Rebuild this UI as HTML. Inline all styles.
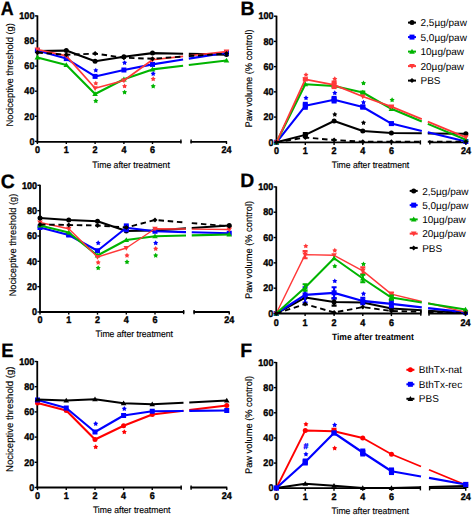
<!DOCTYPE html>
<html><head><meta charset="utf-8"><style>
html,body{margin:0;padding:0;background:#fff;}
svg{display:block;font-family:"Liberation Sans",sans-serif;}
text{text-rendering:geometricPrecision;}
</style></head><body>
<svg width="472" height="515" viewBox="0 0 472 515">
<rect width="472" height="515" fill="#fff"/>
<text transform="translate(0.8 15.4) scale(0.92 1)" font-size="19.4" font-weight="bold" stroke="#000" stroke-width="0.3">A</text>
<path d="M37.4 15.4V142.3" stroke="#000" stroke-width="1.8" fill="none"/>
<path d="M34.8 141.4H37.4" stroke="#000" stroke-width="1.4"/>
<text transform="translate(34.4 144.65) scale(0.93 1)" font-size="9.7" font-weight="bold" text-anchor="end" stroke="#000" stroke-width="0.4">0</text>
<path d="M34.8 116.3H37.4" stroke="#000" stroke-width="1.4"/>
<text transform="translate(34.4 119.55) scale(0.93 1)" font-size="9.7" font-weight="bold" text-anchor="end" stroke="#000" stroke-width="0.4">20</text>
<path d="M34.8 91.2H37.4" stroke="#000" stroke-width="1.4"/>
<text transform="translate(34.4 94.45) scale(0.93 1)" font-size="9.7" font-weight="bold" text-anchor="end" stroke="#000" stroke-width="0.4">40</text>
<path d="M34.8 66.1H37.4" stroke="#000" stroke-width="1.4"/>
<text transform="translate(34.4 69.35) scale(0.93 1)" font-size="9.7" font-weight="bold" text-anchor="end" stroke="#000" stroke-width="0.4">60</text>
<path d="M34.8 41H37.4" stroke="#000" stroke-width="1.4"/>
<text transform="translate(34.4 44.25) scale(0.93 1)" font-size="9.7" font-weight="bold" text-anchor="end" stroke="#000" stroke-width="0.4">80</text>
<path d="M34.8 15.9H37.4" stroke="#000" stroke-width="1.4"/>
<text transform="translate(34.4 19.15) scale(0.93 1)" font-size="9.7" font-weight="bold" text-anchor="end" stroke="#000" stroke-width="0.4">100</text>
<path d="M36.5 141.9H181.5 M190.5 141.9H227" stroke="#000" stroke-width="1.8" fill="none"/>
<path d="M180.9 139.4V143.6" stroke="#000" stroke-width="1.4"/>
<path d="M191.1 139.4V143.6" stroke="#000" stroke-width="1.4"/>
<path d="M37.4 141.4V144" stroke="#000" stroke-width="1.4"/>
<text transform="translate(37.4 153.4) scale(0.93 1)" font-size="9.7" font-weight="bold" text-anchor="middle" stroke="#000" stroke-width="0.4">0</text>
<path d="M66.3 141.4V144" stroke="#000" stroke-width="1.4"/>
<text transform="translate(66.3 153.4) scale(0.93 1)" font-size="9.7" font-weight="bold" text-anchor="middle" stroke="#000" stroke-width="0.4">1</text>
<path d="M95.1 141.4V144" stroke="#000" stroke-width="1.4"/>
<text transform="translate(95.1 153.4) scale(0.93 1)" font-size="9.7" font-weight="bold" text-anchor="middle" stroke="#000" stroke-width="0.4">2</text>
<path d="M123.9 141.4V144" stroke="#000" stroke-width="1.4"/>
<text transform="translate(123.9 153.4) scale(0.93 1)" font-size="9.7" font-weight="bold" text-anchor="middle" stroke="#000" stroke-width="0.4">4</text>
<path d="M152.5 141.4V144" stroke="#000" stroke-width="1.4"/>
<text transform="translate(152.5 153.4) scale(0.93 1)" font-size="9.7" font-weight="bold" text-anchor="middle" stroke="#000" stroke-width="0.4">6</text>
<path d="M226.5 141.4V144" stroke="#000" stroke-width="1.4"/>
<text transform="translate(226.5 153.4) scale(0.93 1)" font-size="9.7" font-weight="bold" text-anchor="middle" stroke="#000" stroke-width="0.4">24</text>
<text transform="translate(92.3 167.7) scale(0.93 1)" font-size="9.3" stroke="#000" stroke-width="0.15" >Time after treatment</text>
<text transform="translate(13.1 74.8) rotate(-90) scale(0.965 1)" font-size="9.7" text-anchor="middle" stroke="#000" stroke-width="0.15">Nociceptive threshold (g)</text>
<path d="M37.4 51 L66.3 50.6 L95.1 61.2 L123.9 56.7 L152.5 53.1 L183.1 53.72 M188.8 53.84 L226.5 54.6" stroke="#000" stroke-width="2.1" fill="none" stroke-linejoin="round"/>
<circle cx="37.4" cy="51" r="2.5" fill="#000"/>
<circle cx="66.3" cy="50.6" r="2.5" fill="#000"/>
<circle cx="95.1" cy="61.2" r="2.5" fill="#000"/>
<circle cx="123.9" cy="56.7" r="2.5" fill="#000"/>
<circle cx="152.5" cy="53.1" r="2.5" fill="#000"/>
<circle cx="226.5" cy="54.6" r="2.5" fill="#000"/>
<path d="M37.4 50.6 L66.3 58.6 L95.1 76.4 L123.9 70 L152.5 64.4 L183.1 59.56 M188.8 58.66 L226.5 52.7" stroke="#0000ff" stroke-width="2.1" fill="none" stroke-linejoin="round"/>
<rect x="34.9" y="48.1" width="5" height="5" fill="#0000ff"/>
<rect x="63.8" y="56.1" width="5" height="5" fill="#0000ff"/>
<rect x="92.6" y="73.9" width="5" height="5" fill="#0000ff"/>
<rect x="121.4" y="67.5" width="5" height="5" fill="#0000ff"/>
<rect x="150" y="61.9" width="5" height="5" fill="#0000ff"/>
<rect x="224" y="50.2" width="5" height="5" fill="#0000ff"/>
<path d="M37.4 57.4 L66.3 65 L95.1 94 L123.9 79.3 L152.5 69.4 L183.1 65.72 M188.8 65.03 L226.5 60.5" stroke="#00b400" stroke-width="2.1" fill="none" stroke-linejoin="round"/>
<path d="M37.4 54.6L40.2 59.5L34.6 59.5Z" fill="#00b400"/>
<path d="M66.3 62.2L69.1 67.1L63.5 67.1Z" fill="#00b400"/>
<path d="M95.1 91.2L97.9 96.1L92.3 96.1Z" fill="#00b400"/>
<path d="M123.9 76.5L126.7 81.4L121.1 81.4Z" fill="#00b400"/>
<path d="M152.5 66.6L155.3 71.5L149.7 71.5Z" fill="#00b400"/>
<path d="M226.5 57.7L229.3 62.6L223.7 62.6Z" fill="#00b400"/>
<path d="M37.4 49.5 L66.3 55.9 L95.1 88.3 L123.9 80.5 L152.5 59.75 L183.1 56.38 M188.8 55.75 L226.5 51.6" stroke="#ff3838" stroke-width="1.7" fill="none" stroke-linejoin="round"/>
<path d="M37.4 52.3L40.2 47.4L34.6 47.4Z" fill="#ff3838"/>
<path d="M66.3 58.7L69.1 53.8L63.5 53.8Z" fill="#ff3838"/>
<path d="M95.1 91.1L97.9 86.2L92.3 86.2Z" fill="#ff3838"/>
<path d="M123.9 83.3L126.7 78.4L121.1 78.4Z" fill="#ff3838"/>
<path d="M152.5 62.55L155.3 57.65L149.7 57.65Z" fill="#ff3838"/>
<path d="M226.5 54.4L229.3 49.5L223.7 49.5Z" fill="#ff3838"/>
<path d="M37.4 52.5 L66.3 54.8 L95.1 53.6 L123.9 57.7 L152.5 58.75 L183.1 56.58 M188.8 56.17 L226.5 53.5" stroke="#000" stroke-width="1.9" fill="none" stroke-linejoin="round" stroke-dasharray="5.5 3.7"/>
<path d="M37.4 50L39.9 52.5L37.4 55L34.9 52.5Z" fill="#000"/>
<path d="M66.3 52.3L68.8 54.8L66.3 57.3L63.8 54.8Z" fill="#000"/>
<path d="M95.1 51.1L97.6 53.6L95.1 56.1L92.6 53.6Z" fill="#000"/>
<path d="M123.9 55.2L126.4 57.7L123.9 60.2L121.4 57.7Z" fill="#000"/>
<path d="M152.5 56.25L155 58.75L152.5 61.25L150 58.75Z" fill="#000"/>
<path d="M226.5 51L229 53.5L226.5 56L224 53.5Z" fill="#000"/>
<path d="M95.8 67.75L96.66 69.22L98.32 69.58L97.19 70.85L97.36 72.54L95.8 71.86L94.24 72.54L94.41 70.85L93.28 69.58L94.94 69.22Z" fill="#0000ff"/>
<path d="M95.8 80.75L96.66 82.22L98.32 82.58L97.19 83.85L97.36 85.54L95.8 84.86L94.24 85.54L94.41 83.85L93.28 82.58L94.94 82.22Z" fill="#ff3838"/>
<path d="M95.8 98.35L96.66 99.82L98.32 100.18L97.19 101.45L97.36 103.14L95.8 102.46L94.24 103.14L94.41 101.45L93.28 100.18L94.94 99.82Z" fill="#00b400"/>
<path d="M124.6 60.15L125.46 61.62L127.12 61.98L125.99 63.25L126.16 64.94L124.6 64.26L123.04 64.94L123.21 63.25L122.08 61.98L123.74 61.62Z" fill="#0000ff"/>
<path d="M124.6 83.55L125.46 85.02L127.12 85.38L125.99 86.65L126.16 88.34L124.6 87.66L123.04 88.34L123.21 86.65L122.08 85.38L123.74 85.02Z" fill="#ff3838"/>
<path d="M124.6 89.65L125.46 91.12L127.12 91.48L125.99 92.75L126.16 94.44L124.6 93.76L123.04 94.44L123.21 92.75L122.08 91.48L123.74 91.12Z" fill="#00b400"/>
<path d="M153.2 71.1L154.06 72.57L155.72 72.93L154.59 74.2L154.76 75.89L153.2 75.21L151.64 75.89L151.81 74.2L150.68 72.93L152.34 72.57Z" fill="#0000ff"/>
<path d="M153.2 76.35L154.06 77.82L155.72 78.18L154.59 79.45L154.76 81.14L153.2 80.46L151.64 81.14L151.81 79.45L150.68 78.18L152.34 77.82Z" fill="#ff3838"/>
<path d="M153.2 83.6L154.06 85.07L155.72 85.43L154.59 86.7L154.76 88.39L153.2 87.71L151.64 88.39L151.81 86.7L150.68 85.43L152.34 85.07Z" fill="#00b400"/>
<text transform="translate(240.6 15.1) scale(1 1)" font-size="19.4" font-weight="bold" stroke="#000" stroke-width="0.3">B</text>
<path d="M276.5 15.7V143.2" stroke="#000" stroke-width="1.8" fill="none"/>
<path d="M273.9 142.3H276.5" stroke="#000" stroke-width="1.4"/>
<text transform="translate(273.5 145.55) scale(0.93 1)" font-size="9.7" font-weight="bold" text-anchor="end" stroke="#000" stroke-width="0.4">0</text>
<path d="M273.9 117.08H276.5" stroke="#000" stroke-width="1.4"/>
<text transform="translate(273.5 120.33) scale(0.93 1)" font-size="9.7" font-weight="bold" text-anchor="end" stroke="#000" stroke-width="0.4">20</text>
<path d="M273.9 91.86H276.5" stroke="#000" stroke-width="1.4"/>
<text transform="translate(273.5 95.11) scale(0.93 1)" font-size="9.7" font-weight="bold" text-anchor="end" stroke="#000" stroke-width="0.4">40</text>
<path d="M273.9 66.64H276.5" stroke="#000" stroke-width="1.4"/>
<text transform="translate(273.5 69.89) scale(0.93 1)" font-size="9.7" font-weight="bold" text-anchor="end" stroke="#000" stroke-width="0.4">60</text>
<path d="M273.9 41.42H276.5" stroke="#000" stroke-width="1.4"/>
<text transform="translate(273.5 44.67) scale(0.93 1)" font-size="9.7" font-weight="bold" text-anchor="end" stroke="#000" stroke-width="0.4">80</text>
<path d="M273.9 16.2H276.5" stroke="#000" stroke-width="1.4"/>
<text transform="translate(273.5 19.45) scale(0.93 1)" font-size="9.7" font-weight="bold" text-anchor="end" stroke="#000" stroke-width="0.4">100</text>
<path d="M275.6 142.3H421 M429.2 142.3H466.4" stroke="#000" stroke-width="1.8" fill="none"/>
<path d="M420.4 140.3V144.5" stroke="#000" stroke-width="1.4"/>
<path d="M429.8 140.3V144.5" stroke="#000" stroke-width="1.4"/>
<path d="M276.5 142.3V144.9" stroke="#000" stroke-width="1.4"/>
<text transform="translate(276.5 154.3) scale(0.93 1)" font-size="9.7" font-weight="bold" text-anchor="middle" stroke="#000" stroke-width="0.4">0</text>
<path d="M305.3 142.3V144.9" stroke="#000" stroke-width="1.4"/>
<text transform="translate(305.3 154.3) scale(0.93 1)" font-size="9.7" font-weight="bold" text-anchor="middle" stroke="#000" stroke-width="0.4">1</text>
<path d="M334.1 142.3V144.9" stroke="#000" stroke-width="1.4"/>
<text transform="translate(334.1 154.3) scale(0.93 1)" font-size="9.7" font-weight="bold" text-anchor="middle" stroke="#000" stroke-width="0.4">2</text>
<path d="M362.8 142.3V144.9" stroke="#000" stroke-width="1.4"/>
<text transform="translate(362.8 154.3) scale(0.93 1)" font-size="9.7" font-weight="bold" text-anchor="middle" stroke="#000" stroke-width="0.4">4</text>
<path d="M391.4 142.3V144.9" stroke="#000" stroke-width="1.4"/>
<text transform="translate(391.4 154.3) scale(0.93 1)" font-size="9.7" font-weight="bold" text-anchor="middle" stroke="#000" stroke-width="0.4">6</text>
<path d="M465.9 142.3V144.9" stroke="#000" stroke-width="1.4"/>
<text transform="translate(465.9 154.3) scale(0.93 1)" font-size="9.7" font-weight="bold" text-anchor="middle" stroke="#000" stroke-width="0.4">24</text>
<text transform="translate(331.7 167.6) scale(0.93 1)" font-size="9.3" stroke="#000" stroke-width="0.15" >Time after treatment</text>
<text transform="translate(252 78.4) rotate(-90) scale(0.965 1)" font-size="9.65" text-anchor="middle" stroke="#000" stroke-width="0.15">Paw volume (% control)</text>
<path d="M276.5 142.3 L305.3 134.9 L334.1 121 L362.8 131 L391.4 133 L421.8 133.33 M427.8 133.39 L465.9 133.8" stroke="#000" stroke-width="2" fill="none" stroke-linejoin="round"/>
<rect x="302.8" y="132" width="5" height="5.8" fill="#000"/>
<circle cx="276.5" cy="142.3" r="2.5" fill="#000"/>
<circle cx="305.3" cy="134.9" r="2.5" fill="#000"/>
<circle cx="334.1" cy="121" r="2.5" fill="#000"/>
<circle cx="362.8" cy="131" r="2.5" fill="#000"/>
<circle cx="391.4" cy="133" r="2.5" fill="#000"/>
<circle cx="465.9" cy="133.8" r="2.5" fill="#000"/>
<path d="M276.5 142.3 L305.3 105.8 L334.1 99.7 L362.8 107 L391.4 123.6 L421.8 130.9 M427.8 132.35 L465.9 141.5" stroke="#0000ff" stroke-width="2.1" fill="none" stroke-linejoin="round"/>
<rect x="302.8" y="101.8" width="5" height="8" fill="#0000ff"/>
<rect x="331.6" y="95.9" width="5" height="7.6" fill="#0000ff"/>
<rect x="360.3" y="104.6" width="5" height="4.8" fill="#0000ff"/>
<rect x="388.9" y="121.6" width="5" height="4" fill="#0000ff"/>
<rect x="274" y="139.8" width="5" height="5" fill="#0000ff"/>
<rect x="302.8" y="103.3" width="5" height="5" fill="#0000ff"/>
<rect x="331.6" y="97.2" width="5" height="5" fill="#0000ff"/>
<rect x="360.3" y="104.5" width="5" height="5" fill="#0000ff"/>
<rect x="388.9" y="121.1" width="5" height="5" fill="#0000ff"/>
<rect x="463.4" y="139" width="5" height="5" fill="#0000ff"/>
<path d="M276.5 142.3 L305.3 84.2 L334.1 86 L362.8 92.5 L391.4 108.8 L421.8 121.41 M427.8 123.9 L465.9 139.7" stroke="#00b400" stroke-width="2.1" fill="none" stroke-linejoin="round"/>
<rect x="360.3" y="90.5" width="5" height="4" fill="#00b400"/>
<path d="M276.5 139.5L279.3 144.4L273.7 144.4Z" fill="#00b400"/>
<path d="M305.3 81.4L308.1 86.3L302.5 86.3Z" fill="#00b400"/>
<path d="M334.1 83.2L336.9 88.1L331.3 88.1Z" fill="#00b400"/>
<path d="M362.8 89.7L365.6 94.6L360 94.6Z" fill="#00b400"/>
<path d="M391.4 106L394.2 110.9L388.6 110.9Z" fill="#00b400"/>
<path d="M465.9 136.9L468.7 141.8L463.1 141.8Z" fill="#00b400"/>
<path d="M276.5 142.3 L305.3 79.4 L334.1 84.8 L362.8 96.5 L391.4 106.6 L421.8 119.13 M427.8 121.6 L465.9 137.3" stroke="#ff3838" stroke-width="1.8" fill="none" stroke-linejoin="round"/>
<rect x="302.8" y="77.4" width="5" height="4" fill="#ff3838"/>
<rect x="331.6" y="80.5" width="5" height="8.6" fill="#ff3838"/>
<rect x="388.9" y="105.1" width="5" height="3" fill="#ff3838"/>
<path d="M276.5 145.1L279.3 140.2L273.7 140.2Z" fill="#ff3838"/>
<path d="M305.3 82.2L308.1 77.3L302.5 77.3Z" fill="#ff3838"/>
<path d="M334.1 87.6L336.9 82.7L331.3 82.7Z" fill="#ff3838"/>
<path d="M362.8 99.3L365.6 94.4L360 94.4Z" fill="#ff3838"/>
<path d="M391.4 109.4L394.2 104.5L388.6 104.5Z" fill="#ff3838"/>
<path d="M465.9 140.1L468.7 135.2L463.1 135.2Z" fill="#ff3838"/>
<path d="M276.5 142.3 L305.3 137.5 L334.1 140 L362.8 141.8 L391.4 141.8 L421.8 141.8 M427.8 141.8 L465.9 141.8" stroke="#000" stroke-width="1.9" fill="none" stroke-linejoin="round" stroke-dasharray="5.5 3.7"/>
<path d="M276.5 139.8L279 142.3L276.5 144.8L274 142.3Z" fill="#000"/>
<path d="M305.3 135L307.8 137.5L305.3 140L302.8 137.5Z" fill="#000"/>
<path d="M334.1 137.5L336.6 140L334.1 142.5L331.6 140Z" fill="#000"/>
<path d="M362.8 139.3L365.3 141.8L362.8 144.3L360.3 141.8Z" fill="#000"/>
<path d="M391.4 139.3L393.9 141.8L391.4 144.3L388.9 141.8Z" fill="#000"/>
<path d="M465.9 139.3L468.4 141.8L465.9 144.3L463.4 141.8Z" fill="#000"/>
<path d="M306 72.25L306.86 73.72L308.52 74.08L307.39 75.35L307.56 77.04L306 76.36L304.44 77.04L304.61 75.35L303.48 74.08L305.14 73.72Z" fill="#ff3838"/>
<path d="M306 95.35L306.86 96.82L308.52 97.18L307.39 98.45L307.56 100.14L306 99.46L304.44 100.14L304.61 98.45L303.48 97.18L305.14 96.82Z" fill="#0000ff"/>
<path d="M334.8 76.35L335.66 77.82L337.32 78.18L336.19 79.45L336.36 81.14L334.8 80.46L333.24 81.14L333.41 79.45L332.28 78.18L333.94 77.82Z" fill="#ff3838"/>
<path d="M334.8 90.35L335.66 91.82L337.32 92.18L336.19 93.45L336.36 95.14L334.8 94.46L333.24 95.14L333.41 93.45L332.28 92.18L333.94 91.82Z" fill="#0000ff"/>
<path d="M334.8 111.85L335.66 113.32L337.32 113.68L336.19 114.95L336.36 116.64L334.8 115.96L333.24 116.64L333.41 114.95L332.28 113.68L333.94 113.32Z" fill="#000"/>
<path d="M363.5 80.55L364.36 82.02L366.02 82.38L364.89 83.65L365.06 85.34L363.5 84.66L361.94 85.34L362.11 83.65L360.98 82.38L362.64 82.02Z" fill="#00b400"/>
<path d="M363.5 99.75L364.36 101.22L366.02 101.58L364.89 102.85L365.06 104.54L363.5 103.86L361.94 104.54L362.11 102.85L360.98 101.58L362.64 101.22Z" fill="#0000ff"/>
<path d="M363.5 120.15L364.36 121.62L366.02 121.98L364.89 123.25L365.06 124.94L363.5 124.26L361.94 124.94L362.11 123.25L360.98 121.98L362.64 121.62Z" fill="#000"/>
<path d="M392.1 97.35L392.96 98.82L394.62 99.18L393.49 100.45L393.66 102.14L392.1 101.46L390.54 102.14L390.71 100.45L389.58 99.18L391.24 98.82Z" fill="#00b400"/>
<path d="M408 22.6H416" stroke="#000" stroke-width="2"/>
<circle cx="412" cy="22.6" r="2.5" fill="#000"/>
<text x="420.5" y="26.2" font-size="10">2,5µg/paw</text>
<path d="M408 37.1H416" stroke="#0000ff" stroke-width="2"/>
<rect x="409.5" y="34.6" width="5" height="5" fill="#0000ff"/>
<text x="420.5" y="40.7" font-size="10">5,0µg/paw</text>
<path d="M408 51.6H416" stroke="#00b400" stroke-width="2"/>
<path d="M412 48.8L414.8 53.7L409.2 53.7Z" fill="#00b400"/>
<text x="420.5" y="55.2" font-size="10">10µg/paw</text>
<path d="M408 66.1H416" stroke="#ff3838" stroke-width="2"/>
<path d="M412 68.9L414.8 64L409.2 64Z" fill="#ff3838"/>
<text x="420.5" y="69.7" font-size="10">20µg/paw</text>
<path d="M408 80.6H416" stroke="#000" stroke-width="2"/>
<path d="M412 78.1L414.5 80.6L412 83.1L409.5 80.6Z" fill="#000"/>
<text x="420.5" y="84.2" font-size="10">PBS</text>
<text transform="translate(0.8 188.2) scale(1 1)" font-size="19.4" font-weight="bold" stroke="#000" stroke-width="0.3">C</text>
<path d="M40 184.8V312.9" stroke="#000" stroke-width="1.8" fill="none"/>
<path d="M37.4 312H40" stroke="#000" stroke-width="1.4"/>
<text transform="translate(37 315.25) scale(0.93 1)" font-size="9.7" font-weight="bold" text-anchor="end" stroke="#000" stroke-width="0.4">0</text>
<path d="M37.4 286.66H40" stroke="#000" stroke-width="1.4"/>
<text transform="translate(37 289.91) scale(0.93 1)" font-size="9.7" font-weight="bold" text-anchor="end" stroke="#000" stroke-width="0.4">20</text>
<path d="M37.4 261.32H40" stroke="#000" stroke-width="1.4"/>
<text transform="translate(37 264.57) scale(0.93 1)" font-size="9.7" font-weight="bold" text-anchor="end" stroke="#000" stroke-width="0.4">40</text>
<path d="M37.4 235.98H40" stroke="#000" stroke-width="1.4"/>
<text transform="translate(37 239.23) scale(0.93 1)" font-size="9.7" font-weight="bold" text-anchor="end" stroke="#000" stroke-width="0.4">60</text>
<path d="M37.4 210.64H40" stroke="#000" stroke-width="1.4"/>
<text transform="translate(37 213.89) scale(0.93 1)" font-size="9.7" font-weight="bold" text-anchor="end" stroke="#000" stroke-width="0.4">80</text>
<path d="M37.4 185.3H40" stroke="#000" stroke-width="1.4"/>
<text transform="translate(37 188.55) scale(0.93 1)" font-size="9.7" font-weight="bold" text-anchor="end" stroke="#000" stroke-width="0.4">100</text>
<path d="M39.1 312H184.25 M193.5 312H229.75" stroke="#000" stroke-width="1.8" fill="none"/>
<path d="M183.65 310V314.2" stroke="#000" stroke-width="1.4"/>
<path d="M194.1 310V314.2" stroke="#000" stroke-width="1.4"/>
<path d="M40 312V314.6" stroke="#000" stroke-width="1.4"/>
<text transform="translate(40 323.1) scale(0.93 1)" font-size="9.7" font-weight="bold" text-anchor="middle" stroke="#000" stroke-width="0.4">0</text>
<path d="M68.75 312V314.6" stroke="#000" stroke-width="1.4"/>
<text transform="translate(68.75 323.1) scale(0.93 1)" font-size="9.7" font-weight="bold" text-anchor="middle" stroke="#000" stroke-width="0.4">1</text>
<path d="M97.5 312V314.6" stroke="#000" stroke-width="1.4"/>
<text transform="translate(97.5 323.1) scale(0.93 1)" font-size="9.7" font-weight="bold" text-anchor="middle" stroke="#000" stroke-width="0.4">2</text>
<path d="M126.3 312V314.6" stroke="#000" stroke-width="1.4"/>
<text transform="translate(126.3 323.1) scale(0.93 1)" font-size="9.7" font-weight="bold" text-anchor="middle" stroke="#000" stroke-width="0.4">4</text>
<path d="M155 312V314.6" stroke="#000" stroke-width="1.4"/>
<text transform="translate(155 323.1) scale(0.93 1)" font-size="9.7" font-weight="bold" text-anchor="middle" stroke="#000" stroke-width="0.4">6</text>
<path d="M229.25 312V314.6" stroke="#000" stroke-width="1.4"/>
<text transform="translate(229.25 323.1) scale(0.93 1)" font-size="9.7" font-weight="bold" text-anchor="middle" stroke="#000" stroke-width="0.4">24</text>
<text transform="translate(95.5 337.4) scale(0.93 1)" font-size="9.3" stroke="#000" stroke-width="0.15" >Time after treatment</text>
<text transform="translate(16 245) rotate(-90) scale(0.965 1)" font-size="9.65" text-anchor="middle" stroke="#000" stroke-width="0.15">Nociceptive threshold (g)</text>
<path d="M40 218 L68.75 220 L97.5 221.25 L126.3 231 L155 230.5 L186 228.41 M191.75 228.03 L229.25 225.5" stroke="#000" stroke-width="2.1" fill="none" stroke-linejoin="round"/>
<circle cx="40" cy="218" r="2.5" fill="#000"/>
<circle cx="68.75" cy="220" r="2.5" fill="#000"/>
<circle cx="97.5" cy="221.25" r="2.5" fill="#000"/>
<circle cx="126.3" cy="231" r="2.5" fill="#000"/>
<circle cx="155" cy="230.5" r="2.5" fill="#000"/>
<circle cx="229.25" cy="225.5" r="2.5" fill="#000"/>
<path d="M40 227.5 L68.75 235 L97.5 250.75 L126.3 227.8 L155 231.25 L186 232.09 M191.75 232.24 L229.25 233.25" stroke="#0000ff" stroke-width="2.1" fill="none" stroke-linejoin="round"/>
<rect x="66.25" y="233" width="5" height="4" fill="#0000ff"/>
<rect x="123.8" y="223.4" width="5" height="8.8" fill="#0000ff"/>
<rect x="37.5" y="225" width="5" height="5" fill="#0000ff"/>
<rect x="66.25" y="232.5" width="5" height="5" fill="#0000ff"/>
<rect x="95" y="248.25" width="5" height="5" fill="#0000ff"/>
<rect x="123.8" y="225.3" width="5" height="5" fill="#0000ff"/>
<rect x="152.5" y="228.75" width="5" height="5" fill="#0000ff"/>
<rect x="226.75" y="230.75" width="5" height="5" fill="#0000ff"/>
<path d="M40 225.5 L68.75 232.5 L97.5 255.5 L126.3 240 L155 236.25 L186 235.52 M191.75 235.38 L229.25 234.5" stroke="#00b400" stroke-width="2.1" fill="none" stroke-linejoin="round"/>
<path d="M40 222.7L42.8 227.6L37.2 227.6Z" fill="#00b400"/>
<path d="M68.75 229.7L71.55 234.6L65.95 234.6Z" fill="#00b400"/>
<path d="M97.5 252.7L100.3 257.6L94.7 257.6Z" fill="#00b400"/>
<path d="M126.3 237.2L129.1 242.1L123.5 242.1Z" fill="#00b400"/>
<path d="M155 233.45L157.8 238.35L152.2 238.35Z" fill="#00b400"/>
<path d="M229.25 231.7L232.05 236.6L226.45 236.6Z" fill="#00b400"/>
<path d="M40 222.5 L68.75 228.75 L97.5 257 L126.3 248 L155 228.75 L186 229.06 M191.75 229.12 L229.25 229.5" stroke="#ff3838" stroke-width="1.45" fill="none" stroke-linejoin="round"/>
<path d="M40 225.3L42.8 220.4L37.2 220.4Z" fill="#ff3838"/>
<path d="M68.75 231.55L71.55 226.65L65.95 226.65Z" fill="#ff3838"/>
<path d="M97.5 259.8L100.3 254.9L94.7 254.9Z" fill="#ff3838"/>
<path d="M126.3 250.8L129.1 245.9L123.5 245.9Z" fill="#ff3838"/>
<path d="M155 231.55L157.8 226.65L152.2 226.65Z" fill="#ff3838"/>
<path d="M229.25 232.3L232.05 227.4L226.45 227.4Z" fill="#ff3838"/>
<path d="M40 224.5 L68.75 225 L97.5 225.5 L126.3 227.5 L155 220 L186 222.61 M191.75 223.09 L229.25 226.25" stroke="#000" stroke-width="1.9" fill="none" stroke-linejoin="round" stroke-dasharray="5.5 3.7"/>
<path d="M40 222L42.5 224.5L40 227L37.5 224.5Z" fill="#000"/>
<path d="M68.75 222.5L71.25 225L68.75 227.5L66.25 225Z" fill="#000"/>
<path d="M97.5 223L100 225.5L97.5 228L95 225.5Z" fill="#000"/>
<path d="M126.3 225L128.8 227.5L126.3 230L123.8 227.5Z" fill="#000"/>
<path d="M155 217.5L157.5 220L155 222.5L152.5 220Z" fill="#000"/>
<path d="M229.25 223.75L231.75 226.25L229.25 228.75L226.75 226.25Z" fill="#000"/>
<path d="M98.2 240.35L99.06 241.82L100.72 242.18L99.59 243.45L99.76 245.14L98.2 244.46L96.64 245.14L96.81 243.45L95.68 242.18L97.34 241.82Z" fill="#0000ff"/>
<path d="M98.2 259.85L99.06 261.32L100.72 261.68L99.59 262.95L99.76 264.64L98.2 263.96L96.64 264.64L96.81 262.95L95.68 261.68L97.34 261.32Z" fill="#ff3838"/>
<path d="M98.2 265.35L99.06 266.82L100.72 267.18L99.59 268.45L99.76 270.14L98.2 269.46L96.64 270.14L96.81 268.45L95.68 267.18L97.34 266.82Z" fill="#00b400"/>
<path d="M127 252.85L127.86 254.32L129.52 254.68L128.39 255.95L128.56 257.64L127 256.96L125.44 257.64L125.61 255.95L124.48 254.68L126.14 254.32Z" fill="#ff3838"/>
<path d="M127 259.35L127.86 260.82L129.52 261.18L128.39 262.45L128.56 264.14L127 263.46L125.44 264.14L125.61 262.45L124.48 261.18L126.14 260.82Z" fill="#00b400"/>
<path d="M155.7 240.35L156.56 241.82L158.22 242.18L157.09 243.45L157.26 245.14L155.7 244.46L154.14 245.14L154.31 243.45L153.18 242.18L154.84 241.82Z" fill="#0000ff"/>
<path d="M155.7 246.1L156.56 247.57L158.22 247.93L157.09 249.2L157.26 250.89L155.7 250.21L154.14 250.89L154.31 249.2L153.18 247.93L154.84 247.57Z" fill="#ff3838"/>
<path d="M155.7 252.85L156.56 254.32L158.22 254.68L157.09 255.95L157.26 257.64L155.7 256.96L154.14 257.64L154.31 255.95L153.18 254.68L154.84 254.32Z" fill="#00b400"/>
<text transform="translate(240.2 187.4) scale(1 1)" font-size="19.4" font-weight="bold" stroke="#000" stroke-width="0.3">D</text>
<path d="M276.25 186.4V314.4" stroke="#000" stroke-width="1.8" fill="none"/>
<path d="M273.65 313.5H276.25" stroke="#000" stroke-width="1.4"/>
<text transform="translate(273.25 316.75) scale(0.93 1)" font-size="9.7" font-weight="bold" text-anchor="end" stroke="#000" stroke-width="0.4">0</text>
<path d="M273.65 288.18H276.25" stroke="#000" stroke-width="1.4"/>
<text transform="translate(273.25 291.43) scale(0.93 1)" font-size="9.7" font-weight="bold" text-anchor="end" stroke="#000" stroke-width="0.4">20</text>
<path d="M273.65 262.86H276.25" stroke="#000" stroke-width="1.4"/>
<text transform="translate(273.25 266.11) scale(0.93 1)" font-size="9.7" font-weight="bold" text-anchor="end" stroke="#000" stroke-width="0.4">40</text>
<path d="M273.65 237.54H276.25" stroke="#000" stroke-width="1.4"/>
<text transform="translate(273.25 240.79) scale(0.93 1)" font-size="9.7" font-weight="bold" text-anchor="end" stroke="#000" stroke-width="0.4">60</text>
<path d="M273.65 212.22H276.25" stroke="#000" stroke-width="1.4"/>
<text transform="translate(273.25 215.47) scale(0.93 1)" font-size="9.7" font-weight="bold" text-anchor="end" stroke="#000" stroke-width="0.4">80</text>
<path d="M273.65 186.9H276.25" stroke="#000" stroke-width="1.4"/>
<text transform="translate(273.25 190.15) scale(0.93 1)" font-size="9.7" font-weight="bold" text-anchor="end" stroke="#000" stroke-width="0.4">100</text>
<path d="M275.35 313.5H421.4 M428.4 313.5H466" stroke="#000" stroke-width="1.8" fill="none"/>
<path d="M420.8 311.5V315.7" stroke="#000" stroke-width="1.4"/>
<path d="M429 311.5V315.7" stroke="#000" stroke-width="1.4"/>
<path d="M276.25 313.5V316.1" stroke="#000" stroke-width="1.4"/>
<text transform="translate(276.25 325.5) scale(0.93 1)" font-size="9.7" font-weight="bold" text-anchor="middle" stroke="#000" stroke-width="0.4">0</text>
<path d="M305.1 313.5V316.1" stroke="#000" stroke-width="1.4"/>
<text transform="translate(305.1 325.5) scale(0.93 1)" font-size="9.7" font-weight="bold" text-anchor="middle" stroke="#000" stroke-width="0.4">1</text>
<path d="M334.1 313.5V316.1" stroke="#000" stroke-width="1.4"/>
<text transform="translate(334.1 325.5) scale(0.93 1)" font-size="9.7" font-weight="bold" text-anchor="middle" stroke="#000" stroke-width="0.4">2</text>
<path d="M362.8 313.5V316.1" stroke="#000" stroke-width="1.4"/>
<text transform="translate(362.8 325.5) scale(0.93 1)" font-size="9.7" font-weight="bold" text-anchor="middle" stroke="#000" stroke-width="0.4">4</text>
<path d="M391.4 313.5V316.1" stroke="#000" stroke-width="1.4"/>
<text transform="translate(391.4 325.5) scale(0.93 1)" font-size="9.7" font-weight="bold" text-anchor="middle" stroke="#000" stroke-width="0.4">6</text>
<path d="M465.5 313.5V316.1" stroke="#000" stroke-width="1.4"/>
<text transform="translate(465.5 325.5) scale(0.93 1)" font-size="9.7" font-weight="bold" text-anchor="middle" stroke="#000" stroke-width="0.4">24</text>
<text transform="translate(331.9 340.3) scale(0.93 1)" font-size="9.2" stroke="#000" stroke-width="0" font-weight="bold">Time after treatment</text>
<text transform="translate(252 250) rotate(-90) scale(0.965 1)" font-size="9.65" text-anchor="middle" stroke="#000" stroke-width="0.15">Paw volume (% control)</text>
<path d="M276.25 313.5 L305.1 297.6 L334.1 302 L362.8 302.5 L391.4 308.4 L421.8 310.29 M428.1 310.68 L465.5 313" stroke="#000" stroke-width="2" fill="none" stroke-linejoin="round"/>
<path d="M334.1 298.4V305.6 M331.6 298.4H336.6 M331.6 305.6H336.6" stroke="#000" stroke-width="2.1" fill="none"/>
<circle cx="276.25" cy="313.5" r="2.5" fill="#000"/>
<circle cx="305.1" cy="297.6" r="2.5" fill="#000"/>
<circle cx="334.1" cy="302" r="2.5" fill="#000"/>
<circle cx="362.8" cy="302.5" r="2.5" fill="#000"/>
<circle cx="391.4" cy="308.4" r="2.5" fill="#000"/>
<circle cx="465.5" cy="313" r="2.5" fill="#000"/>
<path d="M276.25 313.5 L305.1 294.9 L334.1 292.8 L362.8 301 L391.4 303.9 L421.8 307.35 M428.1 308.06 L465.5 312.3" stroke="#0000ff" stroke-width="2.3" fill="none" stroke-linejoin="round"/>
<path d="M305.1 287.3V302.5 M302.6 287.3H307.6 M302.6 302.5H307.6" stroke="#0000ff" stroke-width="2.1" fill="none"/>
<path d="M334.1 287.2V298.4 M331.6 287.2H336.6 M331.6 298.4H336.6" stroke="#0000ff" stroke-width="2.1" fill="none"/>
<path d="M362.8 297.8V304.2 M360.3 297.8H365.3 M360.3 304.2H365.3" stroke="#0000ff" stroke-width="2.1" fill="none"/>
<path d="M391.4 300.7V307.1 M388.9 300.7H393.9 M388.9 307.1H393.9" stroke="#0000ff" stroke-width="2.1" fill="none"/>
<rect x="273.75" y="311" width="5" height="5" fill="#0000ff"/>
<rect x="302.6" y="292.4" width="5" height="5" fill="#0000ff"/>
<rect x="331.6" y="290.3" width="5" height="5" fill="#0000ff"/>
<rect x="360.3" y="298.5" width="5" height="5" fill="#0000ff"/>
<rect x="388.9" y="301.4" width="5" height="5" fill="#0000ff"/>
<rect x="463" y="309.8" width="5" height="5" fill="#0000ff"/>
<path d="M276.25 313.5 L305.1 254.6 L334.1 255.3 L362.8 270.9 L391.4 294.1 L421.8 301.48 M428.1 303.01 L465.5 312.1" stroke="#ff3838" stroke-width="1.4" fill="none" stroke-linejoin="round"/>
<path d="M305.1 251V258.2 M302.6 251H307.6 M302.6 258.2H307.6" stroke="#ff3838" stroke-width="2.1" fill="none"/>
<path d="M362.8 267.4V274.4 M360.3 267.4H365.3 M360.3 274.4H365.3" stroke="#ff3838" stroke-width="2.1" fill="none"/>
<path d="M391.4 292.5V295.7 M388.9 292.5H393.9 M388.9 295.7H393.9" stroke="#ff3838" stroke-width="2.1" fill="none"/>
<path d="M276.25 316.3L279.05 311.4L273.45 311.4Z" fill="#ff3838"/>
<path d="M305.1 257.4L307.9 252.5L302.3 252.5Z" fill="#ff3838"/>
<path d="M334.1 258.1L336.9 253.2L331.3 253.2Z" fill="#ff3838"/>
<path d="M362.8 273.7L365.6 268.8L360 268.8Z" fill="#ff3838"/>
<path d="M391.4 296.9L394.2 292L388.6 292Z" fill="#ff3838"/>
<path d="M465.5 314.9L468.3 310L462.7 310Z" fill="#ff3838"/>
<path d="M276.25 313.5 L305.1 287.5 L334.1 258.2 L362.8 278.5 L391.4 297.6 L421.8 302.48 M428.1 303.49 L465.5 309.5" stroke="#00b400" stroke-width="2" fill="none" stroke-linejoin="round"/>
<path d="M305.1 284.2V290.8 M302.6 284.2H307.6 M302.6 290.8H307.6" stroke="#00b400" stroke-width="2.1" fill="none"/>
<path d="M362.8 274.7V282.3 M360.3 274.7H365.3 M360.3 282.3H365.3" stroke="#00b400" stroke-width="2.1" fill="none"/>
<path d="M391.4 295.6V299.6 M388.9 295.6H393.9 M388.9 299.6H393.9" stroke="#00b400" stroke-width="2.1" fill="none"/>
<path d="M276.25 310.7L279.05 315.6L273.45 315.6Z" fill="#00b400"/>
<path d="M305.1 284.7L307.9 289.6L302.3 289.6Z" fill="#00b400"/>
<path d="M334.1 255.4L336.9 260.3L331.3 260.3Z" fill="#00b400"/>
<path d="M362.8 275.7L365.6 280.6L360 280.6Z" fill="#00b400"/>
<path d="M391.4 294.8L394.2 299.7L388.6 299.7Z" fill="#00b400"/>
<path d="M465.5 306.7L468.3 311.6L462.7 311.6Z" fill="#00b400"/>
<path d="M276.25 313.5 L305.1 304.1 L334.1 312.5 L362.8 307.1 L391.4 311 L421.8 311.82 M428.1 311.99 L465.5 313" stroke="#000" stroke-width="1.9" fill="none" stroke-linejoin="round" stroke-dasharray="5.5 3.7"/>
<path d="M276.25 311L278.75 313.5L276.25 316L273.75 313.5Z" fill="#000"/>
<path d="M305.1 301.6L307.6 304.1L305.1 306.6L302.6 304.1Z" fill="#000"/>
<path d="M334.1 310L336.6 312.5L334.1 315L331.6 312.5Z" fill="#000"/>
<path d="M362.8 304.6L365.3 307.1L362.8 309.6L360.3 307.1Z" fill="#000"/>
<path d="M391.4 308.5L393.9 311L391.4 313.5L388.9 311Z" fill="#000"/>
<path d="M465.5 310.5L468 313L465.5 315.5L463 313Z" fill="#000"/>
<path d="M305.8 243.45L306.66 244.92L308.32 245.28L307.19 246.55L307.36 248.24L305.8 247.56L304.24 248.24L304.41 246.55L303.28 245.28L304.94 244.92Z" fill="#ff3838"/>
<path d="M334.8 247.85L335.66 249.32L337.32 249.68L336.19 250.95L336.36 252.64L334.8 251.96L333.24 252.64L333.41 250.95L332.28 249.68L333.94 249.32Z" fill="#ff3838"/>
<path d="M334.8 263.55L335.66 265.02L337.32 265.38L336.19 266.65L336.36 268.34L334.8 267.66L333.24 268.34L333.41 266.65L332.28 265.38L333.94 265.02Z" fill="#00b400"/>
<path d="M334.8 278.45L335.66 279.92L337.32 280.28L336.19 281.55L336.36 283.24L334.8 282.56L333.24 283.24L333.41 281.55L332.28 280.28L333.94 279.92Z" fill="#0000ff"/>
<path d="M363.5 261.45L364.36 262.92L366.02 263.28L364.89 264.55L365.06 266.24L363.5 265.56L361.94 266.24L362.11 264.55L360.98 263.28L362.64 262.92Z" fill="#00b400"/>
<path d="M363.5 291.15L364.36 292.62L366.02 292.98L364.89 294.25L365.06 295.94L363.5 295.26L361.94 295.94L362.11 294.25L360.98 292.98L362.64 292.62Z" fill="#0000ff"/>
<path d="M409.7 190.9H417.7" stroke="#000" stroke-width="2"/>
<circle cx="413.7" cy="190.9" r="2.5" fill="#000"/>
<text x="422.2" y="194.5" font-size="10">2,5µg/paw</text>
<path d="M409.7 205.15H417.7" stroke="#0000ff" stroke-width="2"/>
<rect x="411.2" y="202.65" width="5" height="5" fill="#0000ff"/>
<text x="422.2" y="208.75" font-size="10">5,0µg/paw</text>
<path d="M409.7 219.4H417.7" stroke="#00b400" stroke-width="2"/>
<path d="M413.7 216.6L416.5 221.5L410.9 221.5Z" fill="#00b400"/>
<text x="422.2" y="223" font-size="10">10µg/paw</text>
<path d="M409.7 233.65H417.7" stroke="#ff3838" stroke-width="2"/>
<path d="M413.7 236.45L416.5 231.55L410.9 231.55Z" fill="#ff3838"/>
<text x="422.2" y="237.25" font-size="10">20µg/paw</text>
<path d="M409.7 247.9H417.7" stroke="#000" stroke-width="2"/>
<path d="M413.7 245.4L416.2 247.9L413.7 250.4L411.2 247.9Z" fill="#000"/>
<text x="422.2" y="251.5" font-size="10">PBS</text>
<text transform="translate(1.3 357.2) scale(0.95 1)" font-size="19.4" font-weight="bold" stroke="#000" stroke-width="0.3">E</text>
<path d="M37.25 361V488.4" stroke="#000" stroke-width="1.8" fill="none"/>
<path d="M34.65 487.5H37.25" stroke="#000" stroke-width="1.4"/>
<text transform="translate(34.25 490.75) scale(0.93 1)" font-size="9.7" font-weight="bold" text-anchor="end" stroke="#000" stroke-width="0.4">0</text>
<path d="M34.65 462.3H37.25" stroke="#000" stroke-width="1.4"/>
<text transform="translate(34.25 465.55) scale(0.93 1)" font-size="9.7" font-weight="bold" text-anchor="end" stroke="#000" stroke-width="0.4">20</text>
<path d="M34.65 437.1H37.25" stroke="#000" stroke-width="1.4"/>
<text transform="translate(34.25 440.35) scale(0.93 1)" font-size="9.7" font-weight="bold" text-anchor="end" stroke="#000" stroke-width="0.4">40</text>
<path d="M34.65 411.9H37.25" stroke="#000" stroke-width="1.4"/>
<text transform="translate(34.25 415.15) scale(0.93 1)" font-size="9.7" font-weight="bold" text-anchor="end" stroke="#000" stroke-width="0.4">60</text>
<path d="M34.65 386.7H37.25" stroke="#000" stroke-width="1.4"/>
<text transform="translate(34.25 389.95) scale(0.93 1)" font-size="9.7" font-weight="bold" text-anchor="end" stroke="#000" stroke-width="0.4">80</text>
<path d="M34.65 361.5H37.25" stroke="#000" stroke-width="1.4"/>
<text transform="translate(34.25 364.75) scale(0.93 1)" font-size="9.7" font-weight="bold" text-anchor="end" stroke="#000" stroke-width="0.4">100</text>
<path d="M36.35 487.5H181.75 M190.5 487.5H227.25" stroke="#000" stroke-width="1.8" fill="none"/>
<path d="M181.15 485.5V489.7" stroke="#000" stroke-width="1.4"/>
<path d="M191.1 485.5V489.7" stroke="#000" stroke-width="1.4"/>
<path d="M37.5 487.5V490.1" stroke="#000" stroke-width="1.4"/>
<text transform="translate(37.5 499.3) scale(0.93 1)" font-size="9.7" font-weight="bold" text-anchor="middle" stroke="#000" stroke-width="0.4">0</text>
<path d="M66.25 487.5V490.1" stroke="#000" stroke-width="1.4"/>
<text transform="translate(66.25 499.3) scale(0.93 1)" font-size="9.7" font-weight="bold" text-anchor="middle" stroke="#000" stroke-width="0.4">1</text>
<path d="M95 487.5V490.1" stroke="#000" stroke-width="1.4"/>
<text transform="translate(95 499.3) scale(0.93 1)" font-size="9.7" font-weight="bold" text-anchor="middle" stroke="#000" stroke-width="0.4">2</text>
<path d="M123.6 487.5V490.1" stroke="#000" stroke-width="1.4"/>
<text transform="translate(123.6 499.3) scale(0.93 1)" font-size="9.7" font-weight="bold" text-anchor="middle" stroke="#000" stroke-width="0.4">4</text>
<path d="M152.25 487.5V490.1" stroke="#000" stroke-width="1.4"/>
<text transform="translate(152.25 499.3) scale(0.93 1)" font-size="9.7" font-weight="bold" text-anchor="middle" stroke="#000" stroke-width="0.4">6</text>
<path d="M226.75 487.5V490.1" stroke="#000" stroke-width="1.4"/>
<text transform="translate(226.75 499.3) scale(0.93 1)" font-size="9.7" font-weight="bold" text-anchor="middle" stroke="#000" stroke-width="0.4">24</text>
<text transform="translate(92.9 513.1) scale(0.93 1)" font-size="9.3" stroke="#000" stroke-width="0.15" >Time after treatment</text>
<text transform="translate(13.1 419.3) rotate(-90) scale(0.965 1)" font-size="9.9" text-anchor="middle" stroke="#000" stroke-width="0.15">Nociceptive threshold (g)</text>
<path d="M37.5 403 L66.25 410.5 L95 439.5 L123.6 425.75 L152.25 414.5 L183.5 410.72 M189.25 410.03 L226.75 405.5" stroke="#ff0000" stroke-width="2.1" fill="none" stroke-linejoin="round"/>
<circle cx="37.5" cy="403" r="2.5" fill="#ff0000"/>
<circle cx="66.25" cy="410.5" r="2.5" fill="#ff0000"/>
<circle cx="95" cy="439.5" r="2.5" fill="#ff0000"/>
<circle cx="123.6" cy="425.75" r="2.5" fill="#ff0000"/>
<circle cx="152.25" cy="414.5" r="2.5" fill="#ff0000"/>
<circle cx="226.75" cy="405.5" r="2.5" fill="#ff0000"/>
<path d="M37.5 400 L66.25 408 L95 432 L123.6 415.5 L152.25 411.25 L183.5 410.94 M189.25 410.88 L226.75 410.5" stroke="#0000ff" stroke-width="2.1" fill="none" stroke-linejoin="round"/>
<rect x="35" y="397.5" width="5" height="5" fill="#0000ff"/>
<rect x="63.75" y="405.5" width="5" height="5" fill="#0000ff"/>
<rect x="92.5" y="429.5" width="5" height="5" fill="#0000ff"/>
<rect x="121.1" y="413" width="5" height="5" fill="#0000ff"/>
<rect x="149.75" y="408.75" width="5" height="5" fill="#0000ff"/>
<rect x="224.25" y="408" width="5" height="5" fill="#0000ff"/>
<path d="M37.5 399.5 L66.25 400.5 L95 399.25 L123.6 403.25 L152.25 404.25 L183.5 402.68 M189.25 402.39 L226.75 400.5" stroke="#000" stroke-width="2" fill="none" stroke-linejoin="round"/>
<path d="M37.5 396.7L40.3 401.6L34.7 401.6Z" fill="#000"/>
<path d="M66.25 397.7L69.05 402.6L63.45 402.6Z" fill="#000"/>
<path d="M95 396.45L97.8 401.35L92.2 401.35Z" fill="#000"/>
<path d="M123.6 400.45L126.4 405.35L120.8 405.35Z" fill="#000"/>
<path d="M152.25 401.45L155.05 406.35L149.45 406.35Z" fill="#000"/>
<path d="M226.75 397.7L229.55 402.6L223.95 402.6Z" fill="#000"/>
<path d="M95.7 421.1L96.56 422.57L98.22 422.93L97.09 424.2L97.26 425.89L95.7 425.21L94.14 425.89L94.31 424.2L93.18 422.93L94.84 422.57Z" fill="#0000ff"/>
<path d="M95.7 444.35L96.56 445.82L98.22 446.18L97.09 447.45L97.26 449.14L95.7 448.46L94.14 449.14L94.31 447.45L93.18 446.18L94.84 445.82Z" fill="#ff0000"/>
<path d="M124.3 406.1L125.16 407.57L126.82 407.93L125.69 409.2L125.86 410.89L124.3 410.21L122.74 410.89L122.91 409.2L121.78 407.93L123.44 407.57Z" fill="#0000ff"/>
<path d="M124.3 429.35L125.16 430.82L126.82 431.18L125.69 432.45L125.86 434.14L124.3 433.46L122.74 434.14L122.91 432.45L121.78 431.18L123.44 430.82Z" fill="#ff0000"/>
<text transform="translate(240.3 357.2) scale(1 1)" font-size="19.4" font-weight="bold" stroke="#000" stroke-width="0.3">F</text>
<path d="M276.4 362V489.1" stroke="#000" stroke-width="1.8" fill="none"/>
<path d="M273.8 488.2H276.4" stroke="#000" stroke-width="1.4"/>
<text transform="translate(273.4 491.45) scale(0.93 1)" font-size="9.7" font-weight="bold" text-anchor="end" stroke="#000" stroke-width="0.4">0</text>
<path d="M273.8 463.06H276.4" stroke="#000" stroke-width="1.4"/>
<text transform="translate(273.4 466.31) scale(0.93 1)" font-size="9.7" font-weight="bold" text-anchor="end" stroke="#000" stroke-width="0.4">20</text>
<path d="M273.8 437.92H276.4" stroke="#000" stroke-width="1.4"/>
<text transform="translate(273.4 441.17) scale(0.93 1)" font-size="9.7" font-weight="bold" text-anchor="end" stroke="#000" stroke-width="0.4">40</text>
<path d="M273.8 412.78H276.4" stroke="#000" stroke-width="1.4"/>
<text transform="translate(273.4 416.03) scale(0.93 1)" font-size="9.7" font-weight="bold" text-anchor="end" stroke="#000" stroke-width="0.4">60</text>
<path d="M273.8 387.64H276.4" stroke="#000" stroke-width="1.4"/>
<text transform="translate(273.4 390.89) scale(0.93 1)" font-size="9.7" font-weight="bold" text-anchor="end" stroke="#000" stroke-width="0.4">80</text>
<path d="M273.8 362.5H276.4" stroke="#000" stroke-width="1.4"/>
<text transform="translate(273.4 365.75) scale(0.93 1)" font-size="9.7" font-weight="bold" text-anchor="end" stroke="#000" stroke-width="0.4">100</text>
<path d="M275.5 488.2H421 M429 488.2H466.25" stroke="#000" stroke-width="1.8" fill="none"/>
<path d="M420.4 486.2V490.4" stroke="#000" stroke-width="1.4"/>
<path d="M429.6 486.2V490.4" stroke="#000" stroke-width="1.4"/>
<path d="M276.4 488.2V490.8" stroke="#000" stroke-width="1.4"/>
<text transform="translate(276.4 500.2) scale(0.93 1)" font-size="9.7" font-weight="bold" text-anchor="middle" stroke="#000" stroke-width="0.4">0</text>
<path d="M305.25 488.2V490.8" stroke="#000" stroke-width="1.4"/>
<text transform="translate(305.25 500.2) scale(0.93 1)" font-size="9.7" font-weight="bold" text-anchor="middle" stroke="#000" stroke-width="0.4">1</text>
<path d="M334 488.2V490.8" stroke="#000" stroke-width="1.4"/>
<text transform="translate(334 500.2) scale(0.93 1)" font-size="9.7" font-weight="bold" text-anchor="middle" stroke="#000" stroke-width="0.4">2</text>
<path d="M362.75 488.2V490.8" stroke="#000" stroke-width="1.4"/>
<text transform="translate(362.75 500.2) scale(0.93 1)" font-size="9.7" font-weight="bold" text-anchor="middle" stroke="#000" stroke-width="0.4">4</text>
<path d="M391.5 488.2V490.8" stroke="#000" stroke-width="1.4"/>
<text transform="translate(391.5 500.2) scale(0.93 1)" font-size="9.7" font-weight="bold" text-anchor="middle" stroke="#000" stroke-width="0.4">6</text>
<path d="M465.75 488.2V490.8" stroke="#000" stroke-width="1.4"/>
<text transform="translate(465.75 500.2) scale(0.93 1)" font-size="9.7" font-weight="bold" text-anchor="middle" stroke="#000" stroke-width="0.4">24</text>
<text transform="translate(331.5 513.6) scale(0.93 1)" font-size="9.3" stroke="#000" stroke-width="0.15" >Time after treatment</text>
<text transform="translate(252 425) rotate(-90) scale(0.965 1)" font-size="9.65" text-anchor="middle" stroke="#000" stroke-width="0.15">Paw volume (% control)</text>
<path d="M276.4 488 L305.25 430.5 L334 431.25 L362.75 438 L391.5 454.25 L421 466.47 M429 469.78 L465.75 485" stroke="#ff0000" stroke-width="1.8" fill="none" stroke-linejoin="round"/>
<rect x="331.5" y="427.75" width="5" height="3.5" fill="#ff0000"/>
<circle cx="276.4" cy="488" r="2.5" fill="#ff0000"/>
<circle cx="305.25" cy="430.5" r="2.5" fill="#ff0000"/>
<circle cx="334" cy="431.25" r="2.5" fill="#ff0000"/>
<circle cx="362.75" cy="438" r="2.5" fill="#ff0000"/>
<circle cx="391.5" cy="454.25" r="2.5" fill="#ff0000"/>
<circle cx="465.75" cy="485" r="2.5" fill="#ff0000"/>
<path d="M276.4 488 L305.25 483.75 L334 485.75 L362.75 488 L391.5 488 L421 487.21 M429 486.99 L465.75 486" stroke="#000" stroke-width="2" fill="none" stroke-linejoin="round"/>
<path d="M276.4 485.2L279.2 490.1L273.6 490.1Z" fill="#000"/>
<path d="M305.25 480.95L308.05 485.85L302.45 485.85Z" fill="#000"/>
<path d="M334 482.95L336.8 487.85L331.2 487.85Z" fill="#000"/>
<path d="M362.75 485.2L365.55 490.1L359.95 490.1Z" fill="#000"/>
<path d="M391.5 485.2L394.3 490.1L388.7 490.1Z" fill="#000"/>
<path d="M465.75 483.2L468.55 488.1L462.95 488.1Z" fill="#000"/>
<path d="M276.4 488 L305.25 462 L334 433 L362.75 452.5 L391.5 471.25 L421 476.51 M429 477.94 L465.75 484.5" stroke="#0000ff" stroke-width="2.2" fill="none" stroke-linejoin="round"/>
<rect x="302.75" y="458.5" width="5" height="7" fill="#0000ff"/>
<rect x="360.25" y="448.5" width="5" height="8" fill="#0000ff"/>
<rect x="389" y="467.45" width="5" height="7.6" fill="#0000ff"/>
<rect x="273.77" y="485.38" width="5.25" height="5.25" fill="#0000ff"/>
<rect x="302.62" y="459.38" width="5.25" height="5.25" fill="#0000ff"/>
<rect x="331.38" y="430.38" width="5.25" height="5.25" fill="#0000ff"/>
<rect x="360.12" y="449.88" width="5.25" height="5.25" fill="#0000ff"/>
<rect x="388.88" y="468.62" width="5.25" height="5.25" fill="#0000ff"/>
<rect x="463.12" y="481.88" width="5.25" height="5.25" fill="#0000ff"/>
<path d="M305.95 421.6L306.81 423.07L308.47 423.43L307.34 424.7L307.51 426.39L305.95 425.71L304.39 426.39L304.56 424.7L303.43 423.43L305.09 423.07Z" fill="#ff0000"/>
<path d="M305.95 451.6L306.81 453.07L308.47 453.43L307.34 454.7L307.51 456.39L305.95 455.71L304.39 456.39L304.56 454.7L303.43 453.43L305.09 453.07Z" fill="#0000ff"/>
<path d="M334.7 422.35L335.56 423.82L337.22 424.18L336.09 425.45L336.26 427.14L334.7 426.46L333.14 427.14L333.31 425.45L332.18 424.18L333.84 423.82Z" fill="#0000ff"/>
<path d="M334.7 445.6L335.56 447.07L337.22 447.43L336.09 448.7L336.26 450.39L334.7 449.71L333.14 450.39L333.31 448.7L332.18 447.43L333.84 447.07Z" fill="#ff0000"/>
<text x="305.95" y="449" font-size="8.6" font-weight="bold" fill="#0000ff" stroke="#0000ff" stroke-width="0.3" text-anchor="middle">#</text>
<path d="M406.4 369.8H414.4" stroke="#ff0000" stroke-width="2"/>
<circle cx="410.4" cy="369.8" r="2.5" fill="#ff0000"/>
<text x="418.8" y="373.4" font-size="10">BthTx-nat</text>
<path d="M406.4 384.3H414.4" stroke="#0000ff" stroke-width="2"/>
<rect x="407.9" y="381.8" width="5" height="5" fill="#0000ff"/>
<text x="418.8" y="387.9" font-size="10">BthTx-rec</text>
<path d="M406.4 398.8H414.4" stroke="#000" stroke-width="2"/>
<path d="M410.4 396L413.2 400.9L407.6 400.9Z" fill="#000"/>
<text x="418.8" y="402.4" font-size="10">PBS</text>
</svg></body></html>
